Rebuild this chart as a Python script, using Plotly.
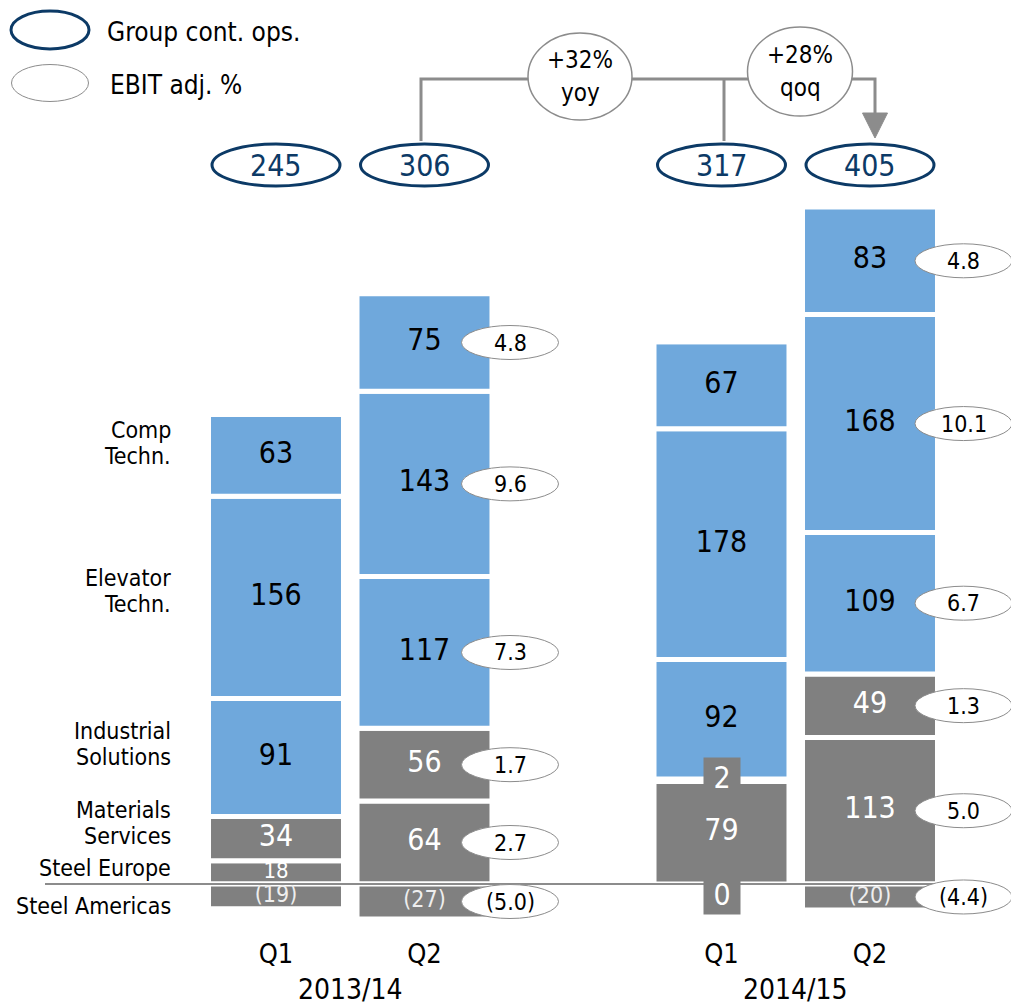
import plotly.graph_objects as go

# ---------------- data ----------------
quarters = ["Q1", "Q2", "Q1", "Q2"]
fiscal_years = ["2013/14", "2013/14", "2014/15", "2014/15"]

steel_europe = [18, 64, 79, 113]
materials_services = [34, 56, 2, 49]
industrial_solutions = [91, 117, 92, 109]
elevator_techn = [156, 143, 178, 168]
components_techn = [63, 75, 67, 83]
steel_americas = [-19, -27, 0, -20]

group_totals = [245, 306, 317, 405]

ebit_steel_europe = [None, 2.7, None, 5.0]
ebit_materials_services = [None, 1.7, None, 1.3]
ebit_industrial_solutions = [None, 7.3, None, 6.7]
ebit_elevator_techn = [None, 9.6, None, 10.1]
ebit_components_techn = [None, 4.8, None, 4.8]
ebit_steel_americas = [None, -5.0, None, -4.4]

yoy_text = ["+32%", "yoy"]
qoq_text = ["+28%", "qoq"]

legend_labels = ["Group cont. ops.", "EBIT adj. %"]

segment_labels = ["Steel Europe", "Materials<br>Services", "Industrial<br>Solutions",
                  "Elevator<br>Techn.", "Comp<br>Techn.", "Steel Americas"]

# ---------------- style / geometry ----------------
BLUE = "#6FA8DC"
GREY = "#808080"
NAVY = "#0C3A66"
LINE_GREY = "#8C8C8C"
FONT = "DejaVu Sans Condensed, DejaVu Sans, sans-serif"

BAR_POS = [0, 1, 3, 4]
W, H = 1011, 1007
PLOT_H = 925
ZERO_PX = 884.0
PX_PER_UNIT = 1.297
X_PITCH = 148.5
X0_PX = 276.0


def px_to_x(px):
    return (px - X0_PX) / X_PITCH


def px_to_y(py):
    return (ZERO_PX - py) / PX_PER_UNIT


def wx(w):
    return w / X_PITCH


def hy(h):
    return h / PX_PER_UNIT


def fmt_val(v):
    return f"({abs(v)})" if v < 0 else f"{v}"


def fmt_pct(v):
    return f"({abs(v):.1f})" if v < 0 else f"{v:.1f}"


segments = [
    (steel_europe, ebit_steel_europe, GREY, "white", 30),
    (materials_services, ebit_materials_services, GREY, "white", 30),
    (industrial_solutions, ebit_industrial_solutions, BLUE, "black", 30),
    (elevator_techn, ebit_elevator_techn, BLUE, "black", 30),
    (components_techn, ebit_components_techn, BLUE, "black", 30),
    (steel_americas, ebit_steel_americas, GREY, "#EEEEEE", 23),
]

fig = go.Figure()
shapes = []
annotations = []

# bars
for vals, _, color, _, _ in segments:
    fig.add_trace(go.Bar(
        x=BAR_POS, y=vals, width=0.909,
        marker=dict(color=color, line=dict(color="white", width=5)),
        hoverinfo="skip", showlegend=False,
    ))

# midpoints
n = len(BAR_POS)
mids = []
pos_base = [0.0] * n
neg_base = [0.0] * n
for seg_i, (vals, _, _, _, _) in enumerate(segments):
    m = []
    for i, v in enumerate(vals):
        if seg_i == len(segments) - 1 or v < 0:
            m.append(neg_base[i] + v / 2)
            neg_base[i] += v
        else:
            m.append(pos_base[i] + v / 2)
            pos_base[i] += v
    mids.append(m)

# zero line
shapes.append(dict(type="line", xref="x", yref="y", x0=px_to_x(45), x1=px_to_x(935),
                   y0=0, y1=0, line=dict(color=LINE_GREY, width=2), layer="above"))

# value labels
EBIT_OFFSET_PX = [85.5, 85.5, 93.5, 93.5]
for seg_i, (vals, ebits, color, tcolor, fsize) in enumerate(segments):
    xs, ys, ts, sizes = [], [], [], []
    for i, v in enumerate(vals):
        if abs(v) < 8:
            annotations.append(dict(
                x=BAR_POS[i], y=mids[seg_i][i], xref="x", yref="y", text=fmt_val(v),
                showarrow=False, font=dict(family=FONT, size=30, color="white"),
                bgcolor=GREY, width=34, height=37, yshift=(-10 if v == 0 else 3),
            ))
        else:
            xs.append(BAR_POS[i])
            ys.append(mids[seg_i][i])
            ts.append(fmt_val(v))
            # labels taller than their segment are drawn a little smaller
            sizes.append(fsize if abs(v) * PX_PER_UNIT > 28 or v < 0 else 22)
    fig.add_trace(go.Scatter(
        x=xs, y=ys, text=ts, mode="text",
        textfont=dict(family=FONT, size=sizes, color=tcolor),
        hoverinfo="skip", showlegend=False,
    ))
    # EBIT ellipses
    for i, e in enumerate(ebits):
        if e is None:
            continue
        cx = BAR_POS[i] + wx(EBIT_OFFSET_PX[i])
        cy = mids[seg_i][i]
        shapes.append(dict(type="circle", xref="x", yref="y",
                           x0=cx - wx(48.5), x1=cx + wx(48.5),
                           y0=cy - hy(17), y1=cy + hy(17),
                           fillcolor="white", line=dict(color=LINE_GREY, width=1)))
        annotations.append(dict(x=cx, y=cy, xref="x", yref="y", text=fmt_pct(e),
                                showarrow=False,
                                font=dict(family=FONT, size=23, color="black")))

# left segment labels (based on first bar)
LABEL_SHIFT_PX = [4, 15.6, 14, 6, 12, -10]
LINE_GAP = 26
for seg_i, lab in enumerate(segment_labels):
    lines = lab.split("<br>")
    k = len(lines)
    for j, line in enumerate(lines):
        off = (j - (k - 1) / 2) * LINE_GAP
        annotations.append(dict(
            x=px_to_x(173), y=mids[seg_i][0], xref="x", yref="y", text=line,
            xanchor="right", showarrow=False, yshift=LABEL_SHIFT_PX[seg_i] - off,
            font=dict(family=FONT, size=23, color="black")))

# connectors (yoy / qoq)
y_line = px_to_y(79)
y_top_ell = px_to_y(141)
shapes.append(dict(type="path", xref="x", yref="y",
                   path=f"M {px_to_x(421)},{y_top_ell} L {px_to_x(421)},{y_line} "
                        f"L {px_to_x(875)},{y_line} L {px_to_x(875)},{px_to_y(114)}",
                   line=dict(color=LINE_GREY, width=3)))
shapes.append(dict(type="line", xref="x", yref="y", x0=px_to_x(724), x1=px_to_x(724),
                   y0=y_line, y1=y_top_ell, line=dict(color=LINE_GREY, width=3)))
shapes.append(dict(type="path", xref="x", yref="y",
                   path=f"M {px_to_x(862.5)},{px_to_y(113)} L {px_to_x(887.5)},{px_to_y(113)} "
                        f"L {px_to_x(875)},{px_to_y(138)} Z",
                   fillcolor=LINE_GREY, line=dict(color=LINE_GREY, width=1)))
for (cxp, cyp, wp, hp), txt in [((580, 76.5, 104, 87), yoy_text), ((800, 71.5, 105, 89), qoq_text)]:
    shapes.append(dict(type="circle", xref="x", yref="y",
                       x0=px_to_x(cxp - wp / 2), x1=px_to_x(cxp + wp / 2),
                       y0=px_to_y(cyp + hp / 2), y1=px_to_y(cyp - hp / 2),
                       fillcolor="white", line=dict(color=LINE_GREY, width=1.5)))
    for j, t in enumerate(txt):
        annotations.append(dict(x=px_to_x(cxp), y=px_to_y(cyp), xref="x", yref="y",
                                text=t, showarrow=False, yshift=(17 if j == 0 else -16),
                                font=dict(family=FONT, size=24, color="black")))

# group totals
for i, tot in enumerate(group_totals):
    cy = px_to_y(165)
    shapes.append(dict(type="circle", xref="x", yref="y",
                       x0=BAR_POS[i] - wx(64), x1=BAR_POS[i] + wx(64),
                       y0=cy - hy(21), y1=cy + hy(21),
                       fillcolor="white", line=dict(color=NAVY, width=3)))
    annotations.append(dict(x=BAR_POS[i], y=cy, xref="x", yref="y", text=str(tot),
                            showarrow=False, font=dict(family=FONT, size=30, color=NAVY)))

# legend
for (cxp, cyp, wp, hp, col, lw, tx), lab in zip(
        [(50, 30, 78, 38, NAVY, 3, 105), (50, 83, 77, 37, LINE_GREY, 1, 108)], legend_labels):
    shapes.append(dict(type="circle", xref="x", yref="y",
                       x0=px_to_x(cxp - wp / 2), x1=px_to_x(cxp + wp / 2),
                       y0=px_to_y(cyp + hp / 2), y1=px_to_y(cyp - hp / 2),
                       fillcolor="white", line=dict(color=col, width=lw)))
    annotations.append(dict(x=px_to_x(tx), y=px_to_y(cyp + 2), xref="x", yref="y", text=lab,
                            xanchor="left", showarrow=False,
                            font=dict(family=FONT, size=26, color="black")))

# fiscal year labels
seen = []
for fy in fiscal_years:
    if fy not in seen:
        seen.append(fy)
for fy in seen:
    xs = [BAR_POS[i] for i, f in enumerate(fiscal_years) if f == fy]
    annotations.append(dict(x=sum(xs) / len(xs), y=1 - 989 / PLOT_H, xref="x", yref="paper",
                            text=fy, showarrow=False, yanchor="middle",
                            font=dict(family=FONT, size=28, color="black")))

fig.update_layout(
    width=W, height=H,
    margin=dict(l=0, r=0, t=0, b=H - PLOT_H, pad=0),
    barmode="relative",
    plot_bgcolor="white", paper_bgcolor="white",
    shapes=shapes, annotations=annotations,
    showlegend=False,
    xaxis=dict(range=[px_to_x(0), px_to_x(W)], tickvals=BAR_POS, ticktext=quarters,
               showgrid=False, zeroline=False, showline=False, ticks="",
               ticklabelstandoff=10,
               tickfont=dict(family=FONT, size=27, color="black"), fixedrange=True),
    yaxis=dict(range=[px_to_y(PLOT_H), px_to_y(0)], visible=False, showgrid=False,
               zeroline=False, fixedrange=True),
)

fig.write_html("out.html")
